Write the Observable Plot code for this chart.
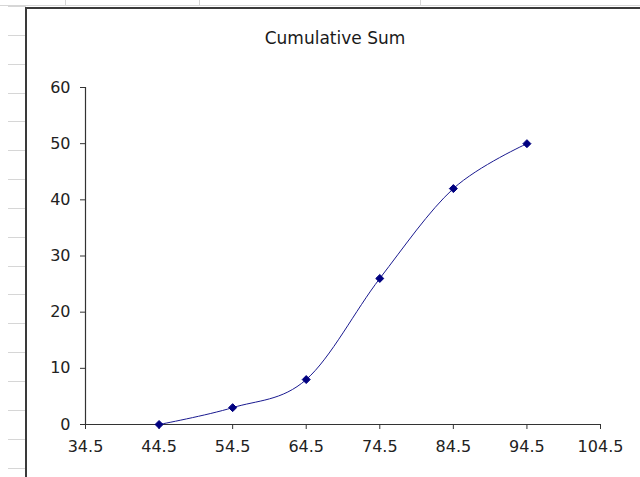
<!DOCTYPE html>
<html>
<head>
<meta charset="utf-8">
<script src="https://cdn.jsdelivr.net/npm/d3@7"></script>
<script src="https://cdn.jsdelivr.net/npm/@observablehq/plot@0.6"></script>
<style>
  html, body { margin: 0; padding: 0; background: #fff; }
  #page { position: relative; width: 640px; height: 477px; overflow: hidden; background: #fff; font-family: "DejaVu Sans", sans-serif; }
  .hline { position: absolute; left: 0; width: 640px; top: 5px; height: 1px; background: #d6d6d6; }
  .vline { position: absolute; top: 0; height: 5px; width: 1px; background: #d6d6d6; }
  #rows { position: absolute; left: 8px; width: 18px; top: 0; height: 477px;
          background-image: repeating-linear-gradient(to bottom, #d6d6d6 0px, #d6d6d6 1px, transparent 1px, transparent 28.85px);
          background-position: 0 6px; }
  #frame { position: absolute; left: 25px; top: 7px; width: 640px; height: 500px; border-left: 2px solid #3a3a3a; border-top: 2px solid #3a3a3a; background: #fff; }
  #title { position: absolute; left: 235px; width: 200px; top: 29px; text-align: center; font-size: 17px; line-height: 18px; color: #1a1a1a; font-family: "DejaVu Sans", sans-serif; }
  #chart { position: absolute; left: 0; top: 0; }
</style>
</head>
<body>
<div id="page">
  <div class="hline"></div>
  <div class="vline" style="left:65px"></div>
  <div class="vline" style="left:199px"></div>
  <div class="vline" style="left:420px"></div>
  <div id="rows"></div>
  <div id="frame"></div>
  <div id="title">Cumulative Sum</div>
  <div id="chart"></div>
</div>
<script>
const classMarks = [44.5, 54.5, 64.5, 74.5, 84.5, 94.5];
const cumulativeSum = [0, 3, 8, 26, 42, 50];
const xTicks = [34.5, 44.5, 54.5, 64.5, 74.5, 84.5, 94.5, 104.5];
const yTicks = [0, 10, 20, 30, 40, 50, 60];

const data = classMarks.map((x, i) => ({x, y: cumulativeSum[i]}));

const plot = Plot.plot({
  width: 640,
  height: 477,
  marginLeft: 85,
  marginRight: 40,
  marginTop: 87,
  marginBottom: 53,
  style: { background: "transparent", fontFamily: "DejaVu Sans, sans-serif", fontSize: "16px", color: "#222" },
  x: { domain: [34.5, 104.5], axis: null },
  y: { domain: [0, 60], axis: null },
  marks: [
    Plot.ruleY([0], { stroke: "#333", strokeWidth: 1.2 }),
    Plot.ruleX([34.5], { stroke: "#333", strokeWidth: 1.2 }),
    Plot.axisX({ ticks: xTicks, tickFormat: d => d.toFixed(1), tickSize: 5, tickPadding: 11, stroke: "#333", fill: "#222", label: null }),
    Plot.axisY({ ticks: yTicks, tickSize: 5, tickPadding: 10, stroke: "#333", fill: "#222", label: null }),
    Plot.line(data, { x: "x", y: "y", curve: "cardinal", stroke: "#1a1a90", strokeWidth: 1 }),
    Plot.dot(data, { x: "x", y: "y", symbol: "diamond2", r: 3.6, fill: "#000080", stroke: "#000080", strokeWidth: 1 })
  ]
});
document.getElementById("chart").appendChild(plot);
</script>
</body>
</html>
